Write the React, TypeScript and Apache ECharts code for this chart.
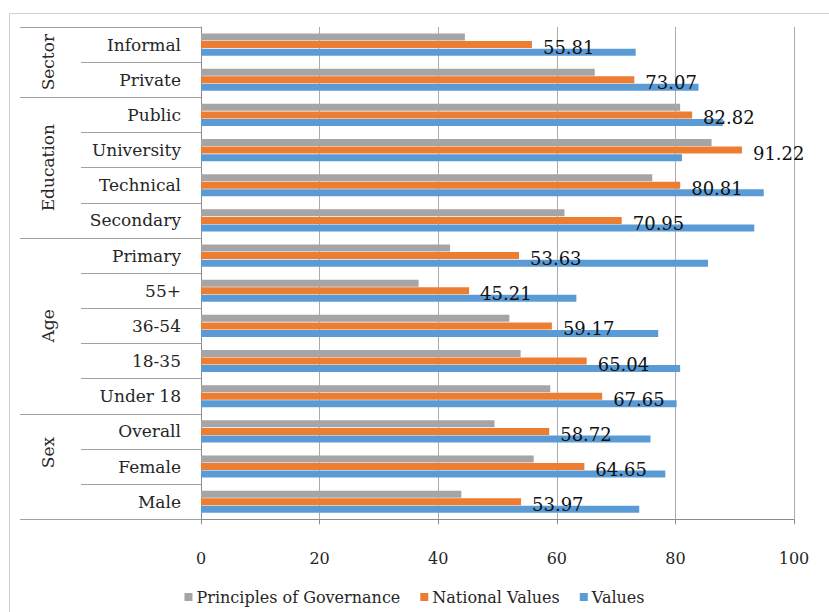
import React, { useEffect, useRef } from "react";
import * as echarts from "echarts";

const categories = [
  "Informal", "Private", "Public", "University", "Technical", "Secondary",
  "Primary", "55+", "36-54", "18-35", "Under 18", "Overall", "Female", "Male",
];
const governance = [44.5, 66.4, 80.8, 86.1, 76.1, 61.3, 42.0, 36.7, 52.0, 53.9, 58.9, 49.5, 56.1, 43.9];
const nationalValues = [55.81, 73.07, 82.82, 91.22, 80.81, 70.95, 53.63, 45.21, 59.17, 65.04, 67.65, 58.72, 64.65, 53.97];
const valuesSeries = [73.3, 83.9, 88.0, 81.1, 94.9, 93.3, 85.5, 63.3, 77.1, 80.8, 80.2, 75.8, 78.3, 73.9];
const seriesNames = ["Principles of Governance", "National Values", "Values"];
const groupNames = ["Sector", "Education", "Age", "Sex"];
const groupBoundaries = [0, 2, 6, 11, 14];
const groupLabelIndex = [1, 4, 8.5, 12.1];
const xTicks = [0, 20, 40, 60, 80, 100];

const W = 829;
const H = 612;
const GRID_LEFT = 201;
const GRID_RIGHT_X = 794;
const GRID_TOP = 27;
const GRID_BOTTOM_Y = 519.3;
const SERIF = "'DejaVu Serif', Georgia, serif";

export default function App() {
  const ref = useRef<HTMLDivElement>(null);
  useEffect(() => {
    if (!ref.current) return;
    const chart = echarts.init(ref.current, null, { renderer: "svg" });
    const band = (GRID_BOTTOM_Y - GRID_TOP) / categories.length;
    const graphics: any[] = [
      {
        type: "rect",
        shape: { x: 9.5, y: 13.5, width: 840, height: 640 },
        style: { fill: "none", stroke: "#d0d0d0", lineWidth: 1 },
        silent: true,
      },
    ];
    groupBoundaries.forEach((b) => {
      const y = Math.round(GRID_TOP + b * band) + 0.5;
      graphics.push({
        type: "line",
        shape: { x1: 20, y1: y, x2: 82, y2: y },
        style: { stroke: "#a0a0a0", lineWidth: 1 },
        silent: true,
      });
    });
    groupNames.forEach((g, i) => {
      graphics.push({
        type: "text",
        x: 48,
        y: GRID_TOP + groupLabelIndex[i] * band,
        rotation: Math.PI / 2,
        style: {
          text: g,
          font: `17px ${SERIF}`,
          fill: "#262626",
          align: "center",
          verticalAlign: "middle",
        },
        silent: true,
      });
    });

    chart.setOption({
      animation: false,
      backgroundColor: "#ffffff",
      graphic: graphics,
      grid: {
        left: GRID_LEFT,
        right: W - GRID_RIGHT_X,
        top: GRID_TOP,
        bottom: H - GRID_BOTTOM_Y,
        containLabel: false,
      },
      legend: {
        data: seriesNames,
        left: "center",
        top: 584,
        itemWidth: 8,
        itemHeight: 8,
        itemGap: 20,
        icon: "rect",
        textStyle: { fontFamily: SERIF, fontSize: 16, color: "#262626", padding: [0, 0, 0, -1] },
      },
      xAxis: {
        type: "value",
        min: 0,
        max: 100,
        interval: 20,
        axisLine: { show: true, lineStyle: { color: "#8c8c8c", width: 1 } },
        axisTick: { show: true, length: 5, lineStyle: { color: "#8c8c8c" } },
        splitLine: { show: true, lineStyle: { color: "#ababab", width: 1 } },
        axisLabel: {
          margin: 31,
          fontFamily: SERIF,
          fontSize: 16,
          color: "#262626",
          formatter: (v: number) => (xTicks.includes(v) ? String(v) : ""),
        },
      },
      yAxis: {
        type: "category",
        data: categories,
        inverse: true,
        axisLine: { show: true, lineStyle: { color: "#8c8c8c", width: 1 } },
        axisTick: { show: true, length: 120, interval: 0, lineStyle: { color: "#a0a0a0" } },
        axisLabel: {
          margin: 20,
          interval: 0,
          fontFamily: SERIF,
          fontSize: 17,
          color: "#262626",
        },
        splitLine: { show: false },
      },
      series: [
        {
          name: seriesNames[0],
          type: "bar",
          data: governance,
          barWidth: 7,
          barGap: "8%",
          itemStyle: { color: "#a5a5a5" },
        },
        {
          name: seriesNames[1],
          type: "bar",
          data: nationalValues,
          barWidth: 7,
          barGap: "8%",
          itemStyle: { color: "#ed7d31" },
          label: {
            show: true,
            position: "right",
            distance: 11,
            offset: [0, 3],
            fontFamily: SERIF,
            fontSize: 18,
            color: "#111111",
            formatter: (p: any) => Number(p.value).toFixed(2),
          },
          z: 3,
        },
        {
          name: seriesNames[2],
          type: "bar",
          data: valuesSeries,
          barWidth: 7,
          barGap: "8%",
          itemStyle: { color: "#5b9bd5" },
        },
      ],
    });
    return () => chart.dispose();
  }, []);
  return (
    <div
      ref={ref}
      style={{ position: "fixed", left: 0, top: 0, width: W, height: H, background: "#fff" }}
    />
  );
}
